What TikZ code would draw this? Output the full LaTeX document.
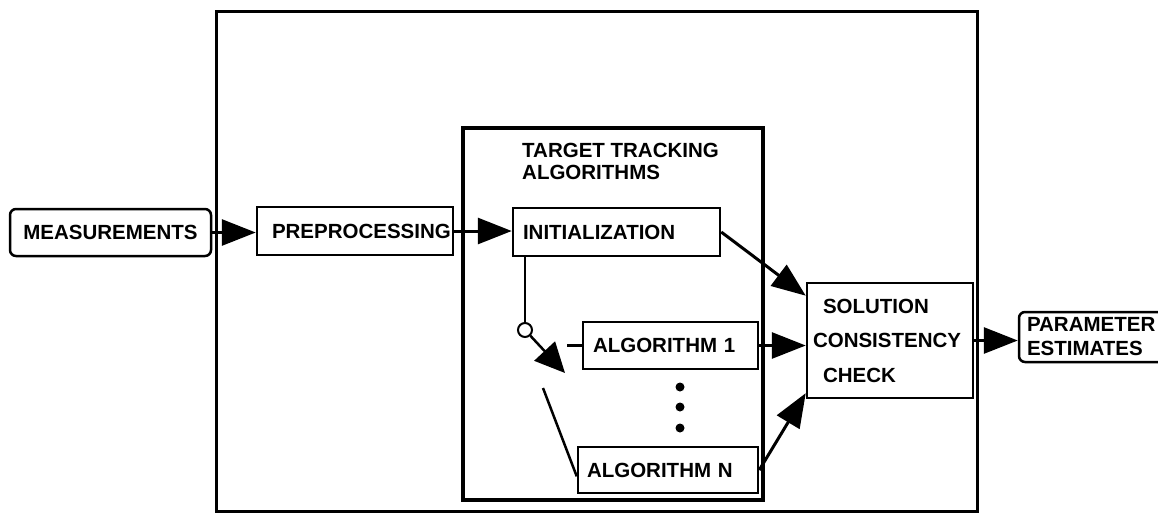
\documentclass[tikz,border=0pt]{standalone}
\usepackage{fontspec}
\setmainfont{Liberation Sans}
\usetikzlibrary{arrows.meta}
\newcommand\lbl{\fontsize{20.5}{22}\selectfont\bfseries}
\tikzset{
  box/.style={draw, line width=2.5pt, rectangle, inner ysep=0pt, align=left, font=\lbl},
  rbox/.style={box, rounded corners=6pt},
  conn/.style={line width=3pt},
  bigarrow/.style={conn, -{Triangle[length=34pt,width=26pt]}},
  dotmark/.style={circle, fill, inner sep=0pt, minimum size=9pt},
  caption/.style={font=\lbl, inner sep=0pt, anchor=base west}
}
\begin{document}
\begin{tikzpicture}[x=1pt, y=-1pt]
\useasboundingbox (0,0) rectangle (1158,512);

% enclosing system frame
\node[draw, line width=3pt, minimum width=761pt, minimum height=500pt, inner sep=0pt]
  (system) at (596.5,261) {};

% target tracking block
\node[draw, line width=4pt, minimum width=300pt, minimum height=372pt, inner sep=0pt]
  (tta) at (613,314) {};
\node[caption] (ttl1) at (522,157.5) {TARGET TRACKING};
\node[caption] (ttl2) at (522,179) {ALGORITHMS};

% processing blocks
\node[rbox, align=center, text width=181pt, inner xsep=10pt, minimum height=47pt]
  (meas) at (110.5,232.5) {MEASUREMENTS};
\node[box, text width=166pt, inner xsep=15pt, minimum height=48pt]
  (prep) at (355,231) {PREPROCESSING};
\node[box, text width=187pt, inner xsep=10pt, minimum height=48pt]
  (init) at (616.5,232) {INITIALIZATION};
\node[box, text width=155pt, inner xsep=10pt, minimum height=47pt]
  (alg1) at (670.5,345.5) {ALGORITHM 1};
\node[box, text width=162pt, inner xsep=9pt, minimum height=46pt]
  (algN) at (668,470) {ALGORITHM N};
\node[box, text width=154pt, inner xsep=6pt, minimum height=115pt]
  (scc) at (890,340.5)
  {\hspace*{10pt}SOLUTION\\[12.5pt]CONSISTENCY\\[12.5pt]\hspace*{10pt}CHECK};
\node[rbox, text width=184pt, inner xsep=8pt, minimum height=50pt]
  (param) at (1119,337) {PARAMETER\\[2pt]ESTIMATES};

% selector switch
\node[circle, draw, line width=2pt, fill=white, minimum size=14pt, inner sep=0pt]
  (sw) at (525,330) {};
\coordinate (swtip) at (565,373);
\coordinate (a1stub) at (567,345.5);
\coordinate (nstub) at (543,388);

% ellipsis between algorithms
\node[dotmark] (d1) at (680,387) {};
\node[dotmark] (d2) at (680,407) {};
\node[dotmark] (d3) at (680,428) {};

% signal flow
\draw[bigarrow] (meas.east) -- (meas.east -| prep.west);
\draw[bigarrow] (prep.east) -- (prep.east -| init.west);
\draw[line width=2.5pt] (init.south -| sw.north) -- (sw.north);
\draw[line width=2.5pt, -{Triangle[length=30pt,width=28pt]}] (sw.-47) -- (swtip);
\draw[line width=2.5pt] (a1stub) -- (alg1.west);
\draw[line width=2.5pt] (nstub) -- (algN.184);
\draw[bigarrow] (init.east) -- (scc.152);
\draw[bigarrow] (alg1.east) -- (alg1.east -| scc.west);
\draw[bigarrow] (algN.east) -- (scc.212);
\draw[bigarrow] (scc.east) -- (scc.east -| param.west);
\end{tikzpicture}
\end{document}
